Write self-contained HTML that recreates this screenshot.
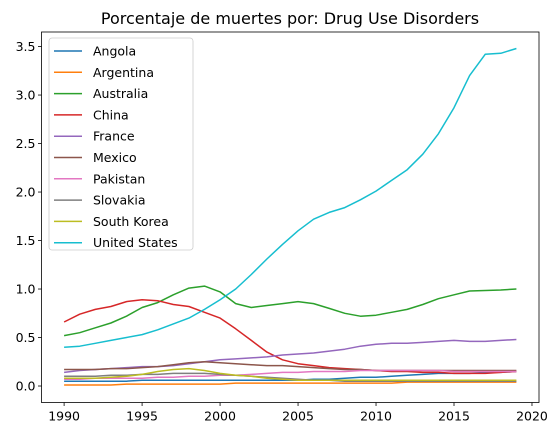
<!DOCTYPE html>
<html><head><meta charset="utf-8"><style>
body{margin:0;background:#fff;font-family:"Liberation Sans","DejaVu Sans",sans-serif}
text{font-family:"DejaVu Sans","Liberation Sans",sans-serif}
</style></head><body>
<svg id="chart" width="558" height="435" xmlns="http://www.w3.org/2000/svg">
<text x="290" y="24" text-anchor="middle" font-size="16" fill="#000">Porcentaje de muertes por: Drug Use Disorders</text>
<g id="plot"></g>
</svg>
<script>
const years=[1990,1991,1992,1993,1994,1995,1996,1997,1998,1999,2000,2001,2002,2003,2004,2005,2006,2007,2008,2009,2010,2011,2012,2013,2014,2015,2016,2017,2018,2019];
const seriesNames=["Angola","Argentina","Australia","China","France","Mexico","Pakistan","Slovakia","South Korea","United States"];
const colors=["#1f77b4","#ff7f0e","#2ca02c","#d62728","#9467bd","#8c564b","#e377c2","#7f7f7f","#bcbd22","#17becf"];
const angola=[.05,.05,.05,.05,.05,.06,.06,.06,.06,.06,.06,.06,.06,.06,.06,.06,.07,.07,.08,.09,.09,.10,.11,.12,.13,.13,.13,.14,.14,.15];
const argentina=[.01,.01,.01,.01,.02,.02,.02,.02,.02,.02,.02,.03,.03,.03,.03,.03,.03,.03,.03,.03,.03,.03,.04,.04,.04,.04,.04,.04,.04,.04];
const australia=[.52,.55,.60,.65,.72,.81,.86,.94,1.01,1.03,.97,.85,.81,.83,.85,.87,.85,.80,.75,.72,.73,.76,.79,.84,.90,.94,.98,.985,.99,1.0];
const china=[.66,.74,.79,.82,.87,.89,.88,.84,.82,.76,.70,.59,.47,.35,.27,.23,.21,.19,.18,.17,.16,.15,.15,.14,.14,.13,.13,.13,.14,.15];
const france=[.14,.16,.17,.18,.19,.20,.20,.21,.23,.25,.27,.28,.29,.30,.32,.33,.34,.36,.38,.41,.43,.44,.44,.45,.46,.47,.46,.46,.47,.48];
const mexico=[.17,.17,.17,.18,.18,.19,.20,.22,.24,.25,.24,.23,.22,.21,.21,.20,.19,.18,.17,.17,.16,.16,.16,.16,.16,.16,.16,.16,.16,.16];
const pakistan=[.07,.07,.08,.08,.08,.08,.09,.09,.10,.10,.11,.11,.12,.13,.14,.14,.15,.15,.15,.16,.16,.16,.16,.16,.16,.15,.15,.15,.15,.15];
const slovakia=[.10,.10,.10,.11,.11,.12,.12,.13,.13,.13,.12,.11,.10,.09,.08,.07,.06,.06,.05,.05,.05,.05,.05,.05,.05,.05,.05,.05,.05,.05];
const southKorea=[.08,.08,.08,.09,.10,.12,.15,.17,.18,.16,.13,.11,.10,.08,.07,.06,.06,.06,.06,.06,.06,.06,.06,.06,.06,.06,.06,.06,.06,.06];
const unitedStates=[.40,.41,.44,.47,.50,.53,.58,.64,.70,.79,.89,1.0,1.15,1.31,1.46,1.60,1.72,1.79,1.84,1.92,2.01,2.12,2.23,2.39,2.60,2.87,3.20,3.42,3.43,3.48];
const allSeries=[angola,argentina,australia,china,france,mexico,pakistan,slovakia,southKorea,unitedStates];
const xTicks=[1990,1995,2000,2005,2010,2015,2020];
const yTicks=[0,0.5,1,1.5,2,2.5,3,3.5];

const NS="http://www.w3.org/2000/svg";
const L=41.5,R=539,T=32,B=402.5;
const xmin=1988.55,xmax=2020.45,ymin=-0.17,ymax=3.65;
const xs=v=>L+(v-xmin)/(xmax-xmin)*(R-L);
const ys=v=>B-(v-ymin)/(ymax-ymin)*(B-T);
const g=document.getElementById('plot');
function mk(tag,attrs,parent){const e=document.createElementNS(NS,tag);for(const k in attrs)e.setAttribute(k,attrs[k]);(parent||g).appendChild(e);return e;}

allSeries.forEach((s,i)=>{
  const p=mk('polyline',{points:s.map((v,j)=>xs(years[j]).toFixed(1)+','+ys(v).toFixed(1)).join(' '),fill:'none',stroke:colors[i],'stroke-width':1.5,'stroke-linejoin':'round'});
  
  
});
const frame=mk('rect',{x:L,y:T,width:R-L,height:B-T,fill:'none',stroke:'#000','stroke-width':0.8});


xTicks.forEach(t=>{
  mk('line',{x1:xs(t),x2:xs(t),y1:B,y2:B+3.5,stroke:'#000','stroke-width':0.8});
  const tx=mk('text',{x:xs(t),y:B+18,'text-anchor':'middle','font-size':12.5,fill:'#000'});
  tx.textContent=t;
  
  
});
yTicks.forEach(t=>{
  mk('line',{x1:L-3.5,x2:L,y1:ys(t),y2:ys(t),stroke:'#000','stroke-width':0.8});
  const tx=mk('text',{x:L-6,y:ys(t)+4.5,'text-anchor':'end','font-size':12.5,fill:'#000'});
  tx.textContent=t.toFixed(1);
  
  
});
const leg=mk('g',{});


mk('rect',{x:49,y:38,width:144,height:212,rx:3,fill:'#fff','fill-opacity':0.8,stroke:'#ccc','stroke-width':0.8},leg);
seriesNames.forEach((n,i)=>{
  const y=51+i*21.3;
  const e=mk('g',{},leg);
  
  
  mk('line',{x1:54,x2:82,y1:y,y2:y,stroke:colors[i],'stroke-width':1.5},e);
  const tx=mk('text',{x:93,y:y+4.5,'font-size':12.5,fill:'#000'},e);
  tx.textContent=n;
});
</script>
</body></html>
